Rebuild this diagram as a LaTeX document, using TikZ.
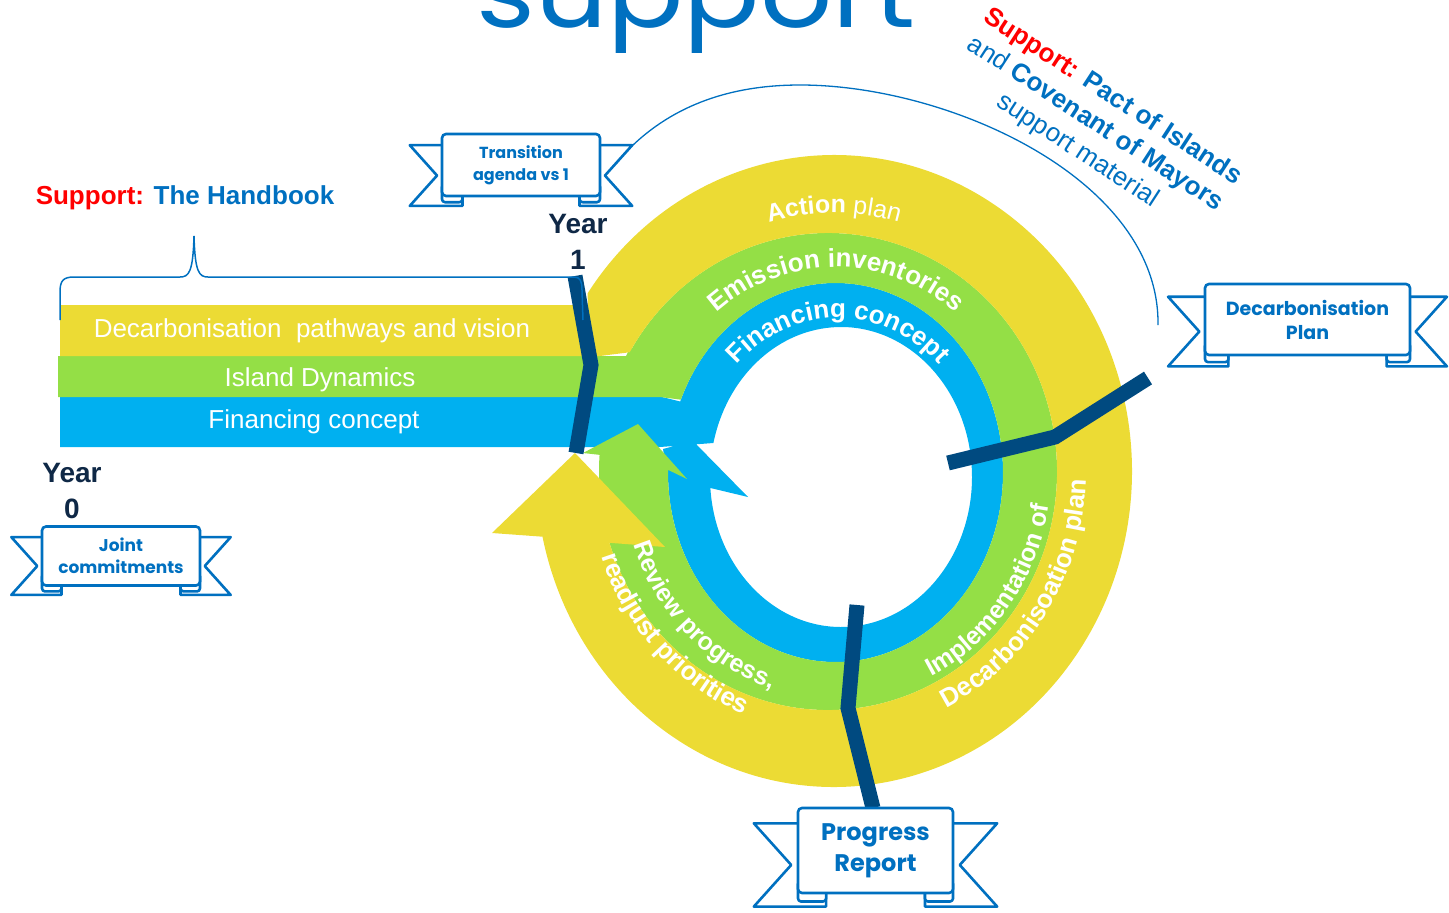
\documentclass[tikz,border=0pt]{standalone}
\usepackage{fontspec}
\setmainfont{Liberation Sans}
\newfontfamily\banfont{Poppins}
\newfontfamily\titfont{Poppins}
\usetikzlibrary{decorations.text}
\definecolor{cyel}{RGB}{236,219,52}
\definecolor{cgrn}{RGB}{148,223,70}
\definecolor{cblu}{RGB}{0,176,240}
\definecolor{cnavy}{RGB}{0,74,128}
\definecolor{ctxt}{RGB}{0,112,192}
\definecolor{cred}{RGB}{255,0,0}
\definecolor{cyear}{RGB}{15,40,70}
\newcommand\fs[1]{\fontsize{#1}{#1}\selectfont}
\tikzset{
 ribline/.style={draw=ctxt, fill=white, line width=2.6, line join=round},
 ribbox/.style={draw=ctxt, fill=white, line width=2.6, rounded corners=4, align=center, text=ctxt, inner sep=0pt},
 navyline/.style={draw=cnavy, line width=15, line join=miter},
 bartext/.style={text=white, font=\fs{26}},
 yeartext/.style={text=cyear, font=\bfseries\fs{28}},
 ringtext/.style={decorate, decoration={text along path, text align=center, text={#1}}},
}
\newcommand\ribbon[7]{%
 \pgfmathsetmacro\rbW{#4/2}%
 \pgfmathsetmacro\rbH{#5/2}%
 \pgfmathsetmacro\rbT{-\rbH+0.18*#5}%
 \pgfmathsetmacro\rbB{\rbH+0.16*#5}%
 \pgfmathsetmacro\rbM{(\rbT+\rbB)/2}%
 \pgfmathsetmacro\rbD{0.52*#5}%
 \pgfmathsetmacro\rbN{0.08*#5}%
 \pgfmathsetmacro\rbF{0.33*#5}%
 \pgfmathsetmacro\rbK{\rbH+0.1*#5}%
 \begin{scope}[shift={(#2,#3)}]
  \draw[ribline] (-\rbW+\rbF,\rbT) -- (-\rbW-\rbD,\rbT) -- (-\rbW-\rbN,\rbM) -- (-\rbW-\rbD,\rbB) -- (-\rbW+\rbF,\rbB) -- cycle;
  \draw[ribline] (\rbW-\rbF,\rbT) -- (\rbW+\rbD,\rbT) -- (\rbW+\rbN,\rbM) -- (\rbW+\rbD,\rbB) -- (\rbW-\rbF,\rbB) -- cycle;
  \draw[ribline, rounded corners=3] (-\rbW,\rbH-12) rectangle (-\rbW+\rbF,\rbK);
  \draw[ribline, rounded corners=3] (\rbW,\rbH-12) rectangle (\rbW-\rbF,\rbK);
 \end{scope}
 \node[ribbox, minimum width=#4, minimum height=#5, font=#6] (#1) at (#2,#3) {#7};
}
\begin{document}
\begin{tikzpicture}[x=1pt,y=-1pt]
\useasboundingbox (0,0) rectangle (1449,913);
\clip (0,0) rectangle (1449,913);

% blue bar + ring
\fill[cblu] (60,397) -- (662,397) -- ([shift={(835.5,472.5)}]202:167.5 and 189.5)
  arc[start angle=202, end angle=538.5, x radius=167.5, y radius=189.5]
  -- (663,449) -- (693,441) -- (748,497)
  -- ([shift={(841,477)}]535.8:131 and 150)
  arc[start angle=535.8, end angle=193.1, x radius=131, y radius=150]
  -- (660,447) -- (60,447) -- cycle;
% green bar + ring
\fill[cgrn] (58,356) -- (626,356) -- (631,346) -- ([shift={(828,471.5)}]211:229 and 238.5)
  arc[start angle=211, end angle=544, x radius=229, y radius=238.5]
  -- (583,453) -- (638,424) -- (687,479)
  -- ([shift={(835.5,472.5)}]540.8:167.5 and 189.5)
  arc[start angle=540.8, end angle=202.6, x radius=167.5, y radius=189.5]
  -- (660,397) -- (58,397) -- cycle;
% yellow bar + ring
\fill[cyel] (60,305) -- (588,305) -- ([shift={(834,471)}]214.2:298 and 316)
  arc[start angle=214.2, end angle=528, x radius=298, y radius=316]
  -- (492,533) -- (575,453) -- (665,547)
  -- ([shift={(828,471.5)}]522.6:229 and 238.5)
  arc[start angle=522.6, end angle=210, x radius=229, y radius=238.5]
  -- (600,356) -- (60,356) -- cycle;

% bar texts
\node[bartext] (t1) at (312,331) {Decarbonisation\ \ pathways and vision};
\node[bartext] (t2) at (320,380) {Island Dynamics};
\node[bartext] (t3) at (314,422) {Financing concept};

% ring texts
\path[ringtext={|\fs{25}\bfseries\color{white}|Action |\fs{25}\mdseries\color{white}|plan}]
  ([shift={(834,471)}]215:244 and 258) arc[start angle=215, end angle=325, x radius=244, y radius=258];
\path[ringtext={|\fs{26}\bfseries\color{white}|Emission inventories}]
  ([shift={(836,472)}]205:189 and 205) arc[start angle=205, end angle=335, x radius=189, y radius=205];
\path[ringtext={|\fs{26}\bfseries\color{white}|Financing concept}]
  ([shift={(838,476)}]200:142 and 158) arc[start angle=200, end angle=340, x radius=142, y radius=158];
\path[ringtext={|\fs{25}\bfseries\color{white}|Review progress,}]
  ([shift={(836,472)}]176:214 and 227) arc[start angle=176, end angle=92, x radius=214, y radius=227];
\path[ringtext={|\fs{26}\bfseries\color{white}|readjust priorities}]
  ([shift={(836,472)}]180:248 and 261) arc[start angle=180, end angle=92, x radius=248, y radius=261];
\path[ringtext={|\fs{25}\bfseries\color{white}|Implementation of}]
  ([shift={(836,472)}]78:215 and 228) arc[start angle=78, end angle=-5, x radius=215, y radius=228];
\path[ringtext={|\fs{26}\bfseries\color{white}|Decarbonisoation plan}]
  ([shift={(836,472)}]76:250 and 263) arc[start angle=76, end angle=-10, x radius=250, y radius=263];

% milestone lines
\draw[navyline] (575,276) -- (591,365) -- (576,453);
\draw[navyline] (948,463) -- (1055,437) -- (1148,378);
\draw[navyline] (857,605) -- (848,708) -- (873,808);

% handbook brace
\draw[ctxt, line width=1.5] (60,320) -- (60,292) .. controls (60,281) and (63,277) .. (74,277)
  -- (180,277) .. controls (189,277) and (193,272) .. (194,236)
  .. controls (195,272) and (199,277) .. (208,277) -- (574,277)
  .. controls (580,277) and (582,281) .. (582,290) -- (583,320);

% connector arc
\coordinate (trtip) at (632,146);
\coordinate (dptip) at (1158,325);
\draw[ctxt, line width=1.3] (trtip) .. controls (680,100) and (740,85) .. (800,85)
  .. controls (950,85) and (1160,180) .. (dptip);

% banners
\ribbon{tr}{521}{165}{158}{62}{\banfont\bfseries\fontsize{16}{22}\selectfont}{Transition\\agenda vs 1}
\ribbon{jc}{121}{556}{158}{59}{\banfont\bfseries\fontsize{17}{22}\selectfont}{Joint\\commitments}
\ribbon{dp}{1307.5}{319.5}{205}{71}{\banfont\bfseries\fontsize{19}{24}\selectfont}{Decarbonisation\\Plan}
\ribbon{pr}{875.5}{850.5}{155}{85}{\banfont\bfseries\fontsize{24}{31}\selectfont}{Progress\\Report}

% years
\node[yeartext] (y1a) at (578,224) {Year};
\node[yeartext] (y1b) at (578,260) {1};
\node[yeartext] (y0a) at (72,473) {Year};
\node[yeartext] (y0b) at (72,509) {0};

% support texts
\node[text=ctxt, font=\bfseries\fs{26}] (hb) at (185,198) {\textcolor{cred}{Support:} The Handbook};
\node[rotate=-33, align=center, text=ctxt, font=\bfseries\fontsize{26}{32}\selectfont] (pact) at (1095,124)
  {\textcolor{cred}{Support:} Pact of Islands\\{\mdseries and} Covenant of Mayors\\{\mdseries support material}};

% title (cut off)
\node[text=ctxt, font=\titfont\fontsize{100}{100}\selectfont, anchor=base west, inner sep=0pt] (title) at (476,27) {\scalebox{1.13}[1]{support}};
\end{tikzpicture}
\end{document}
